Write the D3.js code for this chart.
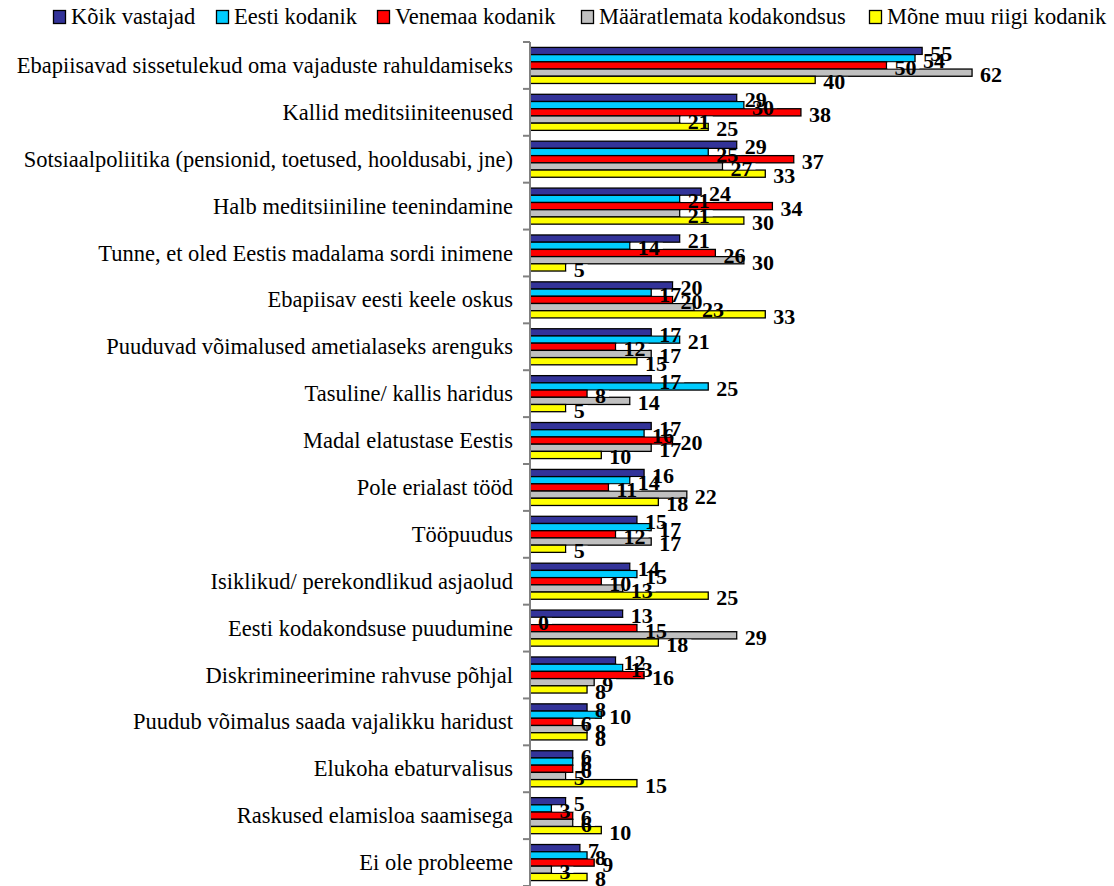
<!DOCTYPE html>
<html><head><meta charset="utf-8">
<script src="https://cdn.jsdelivr.net/npm/d3@7"></script>
<style>body{margin:0;background:#fff}svg{display:block}</style>
</head><body><svg id="c" width="1114" height="886"></svg>
<script>
const categories = [
 "Ebapiisavad sissetulekud oma vajaduste rahuldamiseks",
 "Kallid meditsiiniteenused",
 "Sotsiaalpoliitika (pensionid, toetused, hooldusabi, jne)",
 "Halb meditsiiniline teenindamine",
 "Tunne, et oled Eestis madalama sordi inimene",
 "Ebapiisav eesti keele oskus",
 "Puuduvad võimalused ametialaseks arenguks",
 "Tasuline/ kallis haridus",
 "Madal elatustase Eestis",
 "Pole erialast tööd",
 "Tööpuudus",
 "Isiklikud/ perekondlikud asjaolud",
 "Eesti kodakondsuse puudumine",
 "Diskrimineerimine rahvuse põhjal",
 "Puudub võimalus saada vajalikku haridust",
 "Elukoha ebaturvalisus",
 "Raskused elamisloa saamisega",
 "Ei ole probleeme"
];
const seriesNames = ["Kõik vastajad","Eesti kodanik","Venemaa kodanik","Määratlemata kodakondsus","Mõne muu riigi kodanik"];
const koikVastajad   = [55,29,29,24,21,20,17,17,17,16,15,14,13,12,8,6,5,7];
const eestiKodanik   = [54,30,25,21,14,17,21,25,16,14,17,15,0,13,10,6,3,8];
const venemaaKodanik = [50,38,37,34,26,20,12,8,20,11,12,10,15,16,6,6,6,9];
const maaratlemata   = [62,21,27,21,30,23,17,14,17,22,17,13,29,9,8,5,6,3];
const moneMuu        = [40,25,33,30,5,33,15,5,10,18,5,25,18,8,8,15,10,8];
const seriesValues = [koikVastajad, eestiKodanik, venemaaKodanik, maaratlemata, moneMuu];
const colors = ["#333399","#00CCFF","#FF0000","#C0C0C0","#FFFF00"];

const svg = d3.select("#c");
const x0 = 530, plotTop = 42, plotBottom = 886;
const x = d3.scaleLinear().domain([0,70]).range([x0, x0 + 70*7.13]);
const y = d3.scaleBand().domain(categories).range([plotTop,plotBottom]).paddingInner(0).paddingOuter(0);
const bw = y.bandwidth();
const barH = bw/6.5;
const padTop = (bw - 5*barH)/2;
const serif = "'Liberation Serif', 'Times New Roman', serif";

// category labels
svg.append("g").selectAll("text").data(categories).join("text")
  .attr("x", 513).attr("y", d => y(d) + bw/2 + 7.5)
  .attr("text-anchor","end")
  .attr("font-family", serif)
  .attr("font-size", 22.5).attr("fill","#000").text(d=>d);

// bars
const data = [];
categories.forEach((c,i)=>{ seriesValues.forEach((vals,s)=>{
  data.push({c, s, v: vals[i], y: y(c) + padTop + s*barH});
});});

svg.append("g").selectAll("rect").data(data).join("rect")
  .attr("x", x(0)).attr("y", d=>d.y)
  .attr("width", d=>x(d.v)-x(0)).attr("height", barH)
  .attr("fill", d=>colors[d.s]).attr("stroke","#000").attr("stroke-width",1.3);

// axis
const axisG = svg.append("g");
axisG.append("line").attr("x1",x0).attr("x2",x0).attr("y1",plotTop).attr("y2",plotBottom)
  .attr("stroke","#808080").attr("stroke-width",2);
const ticks = categories.map(c=>y(c)).concat([plotBottom]);
axisG.selectAll("line.t").data(ticks).join("line").attr("class","t")
  .attr("x1",x0-7).attr("x2",x0).attr("y1",d=>d).attr("y2",d=>d)
  .attr("stroke","#808080").attr("stroke-width",2);

// label backgrounds
svg.append("g").selectAll("rect").data(data).join("rect")
  .attr("x", d=>x(d.v)+1).attr("y", d=>d.y+0.6)
  .attr("width", d=> 8 + String(d.v).length*11 + 2).attr("height", barH-1.2)
  .attr("fill","#fff");

svg.append("g").selectAll("text").data(data).join("text")
  .attr("x", d=>x(d.v)+8).attr("y", d=>d.y + barH/2 + 9.5)
  .attr("font-family", serif).attr("font-weight","bold").attr("font-size",22)
  .attr("fill","#000").text(d=>d.v);

// legend
const legX = [53, 216, 377, 581, 869];
const leg = svg.append("g").selectAll("g").data(seriesNames).join("g")
  .attr("transform",(d,i)=>`translate(${legX[i]},0)`);
leg.append("rect").attr("x",0.5).attr("y",10.5).attr("width",12).attr("height",13)
  .attr("fill",(d,i)=>colors[i]).attr("stroke","#000").attr("stroke-width",1.3);
leg.append("text").attr("x",18).attr("y",24)
  .attr("font-family",serif).attr("font-size",22.5).attr("fill","#000").text(d=>d);
</script></body></html>
